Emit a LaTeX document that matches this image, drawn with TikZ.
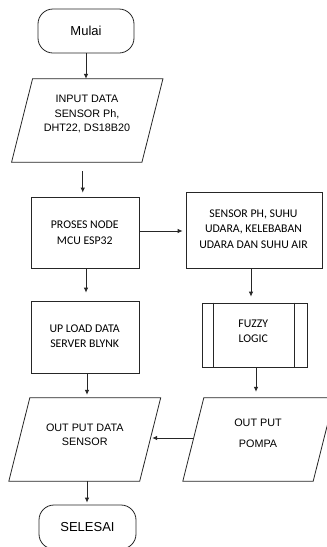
\documentclass[tikz,border=0pt]{standalone}
\usepackage{fontspec}
\setmainfont{Liberation Sans}
\newfontfamily\calib{Carlito}
\usetikzlibrary{arrows.meta}
\begin{document}
\begin{tikzpicture}[x=1pt,y=-1pt,
  line/.style={draw=black!85, line width=0.8pt},
  arr/.style={draw=black!85, line width=0.8pt, -{Latex[length=5pt,width=4.5pt]}},
  term/.style={line, rounded corners=15pt, minimum width=96pt, minimum height=44pt, inner sep=0pt, font={\fontsize{13}{15}\selectfont}},
  pshape/.style={minimum width=130pt, minimum height=83pt, inner sep=0pt},
  rbox/.style={line, inner sep=0pt},
  afont/.style={align=center, inner sep=0pt, font={\fontsize{10.8}{#1}\selectfont}},
  cfont/.style={align=center, inner sep=0pt, font={\calib\fontsize{11.8}{#1}\selectfont}}
]
\clip (0,0) rectangle (327,547);
\fill[white] (0,0) rectangle (327,547);

% terminals
\node[term] (mulai) at (86,31) {Mulai};
\node[term, minimum width=97pt] (selesai) at (87.5,527) {SELESAI};

% parallelogram shapes
\node[pshape] (in1) at (87.25,120.5) {};
\node[pshape, minimum width=130.5pt] (out1) at (84.75,439.5) {};
\node[pshape] (pompa) at (258.5,439.5) {};
\foreach \n in {in1,out1,pompa}{
  \draw[line] ([xshift=10.5pt]\n.north west) -- ([xshift=10.5pt]\n.north east)
    -- ([xshift=-10.5pt]\n.south east) -- ([xshift=-10.5pt]\n.south west) -- cycle;
}
\node[afont=14.2] (tin1) at (87,114) {INPUT DATA\\SENSOR Ph,\\DHT22, DS18B20};
\node[afont=13.7] (tout1) at (84.8,435) {OUT PUT DATA\\SENSOR};
\node[afont=21] (tpompa) at (258,433.3) {OUT PUT\\POMPA};

% rectangles
\node[rbox, minimum width=108pt, minimum height=71pt] (proc) at (85,232.5) {};
\node[cfont=16] (tproc) at (84.8,233) {PROSES NODE\\MCU ESP32};
\node[rbox, minimum width=136pt, minimum height=76pt] (sensor) at (254,230) {};
\node[cfont=15.8] (tsensor) at (253.5,229.2) {SENSOR PH, SUHU\\UDARA, KELEBABAN\\UDARA DAN SUHU AIR};
\node[rbox, minimum width=108pt, minimum height=72pt] (upload) at (85,337) {};
\node[cfont=15.7] (tupload) at (84.7,336.2) {UP LOAD DATA\\SERVER BLYNK};
\node[rbox, minimum width=105pt, minimum height=64pt] (fuzzy) at (254.5,335) {};
\draw[line] ([xshift=12pt]fuzzy.north west) -- ([xshift=12pt]fuzzy.south west);
\draw[line] ([xshift=-13pt]fuzzy.north east) -- ([xshift=-13pt]fuzzy.south east);
\node[cfont=15] (tfuzzy) at (253.3,330.8) {FUZZY\\LOGIC};

% connectors
\draw[arr] (mulai.south) -- (mulai.south |- in1.north);
\draw[arr, shorten <=9pt, shorten >=4pt] ([xshift=-4.5pt]in1.south) -- ([xshift=-4.5pt]in1.south |- proc.north);
\draw[arr, shorten >=3pt] (proc.east |- 0,231) -- (sensor.west |- 0,231);
\draw[arr, shorten >=6pt] ([xshift=-3pt]sensor.south) -- ([xshift=-3pt]sensor.south |- fuzzy.north);
\draw[arr, shorten >=8pt] ([xshift=1pt]proc.south) -- ([xshift=1pt]proc.south |- upload.north);
\draw[arr, shorten >=3pt] ([xshift=2pt]upload.south) -- ([xshift=2pt]upload.south |- out1.north);
\draw[arr, shorten >=6pt] ([xshift=1.5pt]fuzzy.south) -- ([xshift=1.5pt]fuzzy.south |- pompa.north);
\draw[arr, shorten >=2pt] ([yshift=1.5pt]pompa.west) -- ([yshift=1.5pt]out1.east);
\draw[arr, shorten >=2pt] ([xshift=2.25pt]out1.south) -- ([xshift=2.25pt]out1.south |- selesai.north);
\end{tikzpicture}
\end{document}
